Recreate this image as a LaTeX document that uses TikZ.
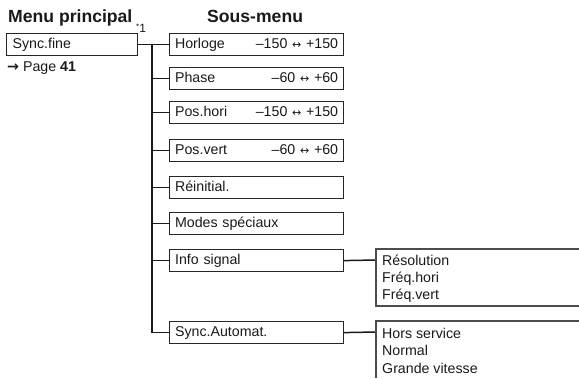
\documentclass[tikz,border=0pt]{standalone}
\usepackage{fontspec}
\setmainfont{Liberation Sans}
\newfontfamily\dejavu{DejaVu Sans}
\newcommand{\lrarr}{\ {\dejavu\fontsize{11}{11}\selectfont ↔}\ }
\begin{document}
\begin{tikzpicture}[x=1pt,y=-1pt,
  font=\fontsize{14.2}{16}\selectfont,
  menubox/.style={draw=black!85, line width=1.2pt, anchor=north west, minimum height=22pt,
    inner xsep=5.5pt, inner ysep=0pt, text height=10pt, text depth=3pt, align=left, text=black!90},
  sub/.style={menubox, text width=163pt},
  conn/.style={draw=black!90, line width=1.5pt},
  rbox/.style={draw=black!70, line width=1.1pt},
  head/.style={font=\bfseries\fontsize{17.6}{19}\selectfont, anchor=base west, inner sep=0pt, text=black!90},
  item/.style={anchor=base west, inner sep=0pt, text=black!90},
]
\useasboundingbox (0,0) rectangle (579,378);

\node[head] (mp) at (8,22.5) {Menu principal};
\node[head] (sm) at (207,22.5) {Sous-menu};

\node[menubox, text width=119pt, inner xsep=6pt] (sf) at (6,33) {Sync.fine};
\node[item] (star) at (136,32.5) {\raisebox{3.5pt}{\fontsize{8}{8}\selectfont *}\fontsize{12}{12}\selectfont 1};
\node[item] (pg) at (7,71) {{\dejavu\bfseries →}\ Page \textbf{41}};

\node[sub] (ho) at (169,33) {Horloge\hfill –150\lrarr+150};
\node[sub] (ph) at (169,67) {Phase\hfill –60\lrarr+60};
\node[sub] (px) at (169,101) {Pos.hori\hfill –150\lrarr+150};
\node[sub] (pv) at (169,139) {Pos.vert\hfill –60\lrarr+60};
\node[sub] (re) at (169,176) {Réinitial.};
\node[sub] (mo) at (169,212) {Modes spéciaux};
\node[sub] (in) at (169,249) {Info signal};
\node[sub] (sa) at (169,321) {Sync.Automat.};

\draw[conn] (sf.east) -- (ho.west);
\coordinate (tr) at (152,44);
\draw[conn] (tr) |- (sa.west);
\foreach \n in {ph,px,pv,re,mo,in} \draw[conn] (tr |- \n.west) -- (\n.west);

\coordinate (ia) at (376,260);
\coordinate (sb) at (376,332);
\draw[conn] (in.east) -- (ia);
\draw[conn] (sa.east) -- (sb);
\draw[rbox] (579,249) -| (376,306) -- (579,306);
\draw[rbox] (579,321) -| (376,378);

\node[item] (r1) at (382,265) {Résolution};
\node[item] (r2) at (382,282) {Fréq.hori};
\node[item] (r3) at (382,299.5) {Fréq.vert};
\node[item] (s1) at (382,338) {Hors service};
\node[item] (s2) at (382,355) {Normal};
\node[item] (s3) at (382,373) {Grande vitesse};
\end{tikzpicture}
\end{document}
